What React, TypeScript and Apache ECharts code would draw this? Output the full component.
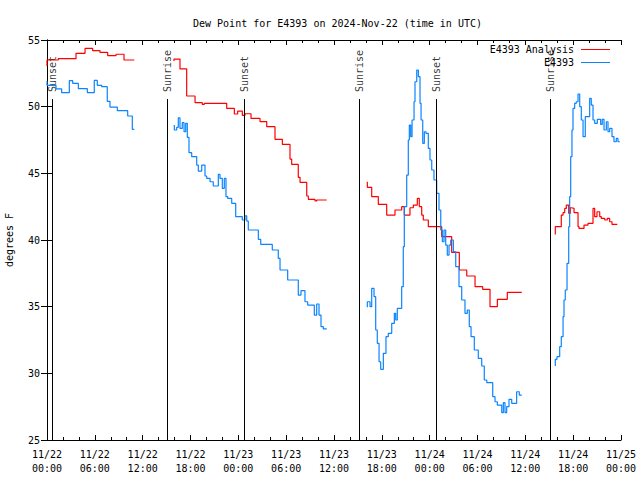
import React, { useEffect, useRef } from "react";
import * as echarts from "echarts";

const FONT = "'DejaVu Sans Mono', monospace";
const TITLE = "Dew Point for E4393 on 2024-Nov-22 (time in UTC)";
const START_DAY = 22;
const X_MAX_HOURS = 72;
const Y_MIN = 25;
const Y_MAX = 55;

// [hours since 11/22 00:00 UTC, degrees F] — value changes (step plots)
const analysis1 = [[0,53.05],[1.42,53.5],[3.64,53.6],[4.77,54.0],[5.73,54.37],[6.65,54.2],[7.61,54.07],[8.66,53.83],[9.66,53.93],[10.54,53.5],[10.95,53.5]];
const analysis2 = [[15.93,53.43],[16.68,53.57],[17.52,52.83],[18.57,50.8],[19.48,50.3],[19.73,50.17],[22.54,50.25],[23.5,49.87],[23.92,49.45],[24.5,49.67],[24.84,49.35],[25.59,49.47],[26.72,49.12],[27.56,48.88],[28.6,48.5],[29.52,47.55],[30.48,47.17],[30.69,46.07],[31.52,45.67],[31.74,44.7],[32.58,44.32],[32.78,43.3],[33.62,43.05],[33.83,42.93],[34.66,43.0],[35.09,43.0]];
const analysis3 = [[40.18,44.37],[40.73,43.95],[41.56,43.25],[42.61,42.67],[43.65,41.87],[44.49,42.25],[44.82,42.5],[45.53,41.87],[45.95,42.42],[46.45,42.62],[46.7,43.12],[47.0,42.5],[47.2,41.87],[47.83,41.5],[49.51,41.0],[50.76,40.25],[51.72,39.07],[52.65,37.75],[53.69,37.3],[54.65,36.5],[55.57,36.3],[56.49,35.0],[57.74,35.55],[58.71,36.07],[59.55,36.07]];
const analysis4 = [[63.76,40.42],[64.51,41.0],[64.73,41.87],[64.94,42.05],[65.14,42.37],[65.44,42.62],[65.64,42.0],[65.77,42.42],[66.11,42.37],[66.61,42.05],[66.73,41.0],[67.36,40.87],[67.86,41.12],[68.49,41.25],[68.7,42.37],[68.99,41.75],[69.33,42.12],[69.53,41.75],[69.96,41.62],[70.28,41.5],[70.58,41.62],[70.87,41.37],[71.21,41.17],[71.54,41.17]];

const observed1 = [[0,51.9],[1.13,51.6],[1.84,51.33],[2.8,51.05],[3.22,51.95],[3.93,51.75],[5.06,51.35],[5.93,51.05],[6.31,51.97],[6.86,51.6],[7.56,51.5],[7.9,50.4],[8.82,49.97],[10.12,49.7],[10.7,49.3],[10.95,48.3]];
const observed2 = [[15.97,48.63],[16.27,48.25],[16.47,48.45],[16.68,49.17],[16.97,48.37],[17.19,48.8],[17.4,48.12],[17.6,48.75],[17.81,47.7],[18.15,46.55],[18.78,46.25],[18.98,45.62],[19.41,45.17],[19.82,45.62],[20.03,44.8],[20.45,44.62],[20.86,44.37],[21.49,44.05],[21.7,44.92],[21.99,44.62],[22.24,43.87],[22.45,44.62],[22.67,43.25],[23.17,43.12],[23.67,42.75],[24.5,41.75],[24.84,41.5],[25.05,41.82],[25.25,41.42],[26.51,40.75],[26.81,40.05],[28.26,39.67],[29.01,39.25],[29.23,38.62],[30.19,37.75],[31.52,37.0],[31.86,35.87],[32.36,36.2],[32.7,35.37],[33.53,35.12],[33.83,34.37],[34.12,35.2],[34.37,34.37],[34.66,33.5],[35.09,33.33]];
const observed3 = [[40.18,34.95],[40.52,35.37],[40.73,35.0],[41.02,36.37],[41.23,35.75],[41.43,33.25],[41.65,32.25],[41.86,30.87],[42.19,30.3],[42.52,31.5],[42.81,32.75],[43.24,33.0],[43.57,33.75],[43.74,34.5],[43.94,34.0],[44.49,34.87],[44.69,36.5],[44.82,39.5],[45.12,42.5],[45.32,44.87],[45.45,47.5],[45.62,48.62],[45.79,47.75],[46.04,49.0],[46.16,50.37],[46.38,51.87],[46.58,52.75],[46.79,52.25],[46.92,50.25],[47.13,49.0],[47.33,47.25],[47.54,48.12],[47.83,48.0],[48.04,46.87],[48.26,46.0],[48.54,45.25],[48.88,44.5],[49.17,43.5],[49.39,42.25],[49.59,40.75],[49.8,39.87],[50.01,40.75],[50.21,39.62],[50.43,38.87],[50.64,39.62],[50.97,40.0],[51.27,39.12],[51.68,38.0],[52.02,36.5],[52.43,35.5],[52.72,34.5],[52.97,34.75],[53.19,33.5],[53.6,32.75],[54.1,31.75],[54.53,31.12],[54.85,30.55],[55.16,29.5],[55.91,29.3],[56.2,28.25],[56.49,27.87],[57.04,27.62],[57.24,27.05],[57.45,27.8],[57.66,27.05],[57.95,27.5],[58.29,28.05],[58.91,27.75],[59.24,28.62],[59.55,28.37]];
const observed4 = [[63.76,30.55],[63.97,31.05],[64.31,31.25],[64.51,32.0],[64.73,32.75],[64.85,34.25],[65.01,35.5],[65.23,36.25],[65.44,38.25],[65.56,41.0],[65.69,43.25],[65.85,46.25],[65.98,48.25],[66.19,49.87],[66.39,50.25],[66.61,50.37],[66.82,50.95],[67.02,50.0],[67.24,49.0],[67.52,47.75],[68.07,49.25],[68.27,50.62],[68.49,50.12],[68.7,49.0],[69.03,48.75],[69.45,49.05],[69.65,48.67],[69.87,49.05],[70.16,48.25],[70.37,48.87],[70.58,48.12],[70.87,48.37],[71.12,47.75],[71.41,47.37],[71.62,47.62],[71.86,47.37]];

const analysisSegments = [analysis1, analysis2, analysis3, analysis4];
const observedSegments = [observed1, observed2, observed3, observed4];

const sunHours = [0.71, 15.1, 24.78, 39.2, 48.84, 63.18];
const sunLabels = ["Sunset", "Sunrise", "Sunset", "Sunrise", "Sunset", "Sunrise"];
const SUN_LINE_TOP = 50.57;
const SUN_LABEL_BASE = 51.1;

const ANALYSIS_NAME = "E4393 Analysis";
const OBSERVED_NAME = "E4393";
const RED = "#ff0000";
const BLUE = "#0a84ff";

function xLabel(v: number): string {
  const day = START_DAY + Math.floor(v / 24);
  const hr = Math.round(v % 24);
  return `11/${day}\n${String(hr).padStart(2, "0")}:00`;
}

export default function App() {
  const ref = useRef<HTMLDivElement>(null);
  useEffect(() => {
    if (!ref.current) return;
    const chart = echarts.init(ref.current, null, { renderer: "svg" });
    const axisCommon = {
      type: "value" as const,
      axisLine: { show: true, lineStyle: { color: "#000", width: 1 } },
      splitLine: { show: false },
    };
    const lineSeries = (name: string, color: string, data: number[][], z: number) => ({
      type: "line",
      name,
      data,
      step: "start",
      showSymbol: false,
      symbol: "none",
      lineStyle: { color, width: 1.2 },
      itemStyle: { color },
      z,
    });
    const series: any[] = [];
    analysisSegments.forEach((seg) => series.push(lineSeries(ANALYSIS_NAME, RED, seg, 3)));
    observedSegments.forEach((seg) => series.push(lineSeries(OBSERVED_NAME, BLUE, seg, 4)));
    series.push({
      type: "scatter",
      name: "sun",
      symbolSize: 0,
      data: sunHours.map((h, i) => [h, SUN_LABEL_BASE, sunLabels[i]]),
      label: {
        show: true,
        position: [0, 0],
        rotate: 90,
        align: "left",
        verticalAlign: "middle",
        formatter: (p: any) => p.data[2],
        fontFamily: FONT,
        fontSize: 10,
        color: "#000",
      },
      markLine: {
        silent: true,
        symbol: ["none", "none"],
        label: { show: false },
        lineStyle: { color: "#000", width: 1, type: "solid" },
        data: sunHours.map((h) => [{ coord: [h, Y_MIN] }, { coord: [h, SUN_LINE_TOP] }]),
      },
      z: 2,
    });

    chart.setOption({
      animation: false,
      backgroundColor: "#fff",
      title: {
        text: TITLE,
        left: 188,
        top: 13,
        textStyle: { fontFamily: FONT, fontSize: 10, fontWeight: "normal", color: "#000" },
      },
      legend: {
        data: [
          { name: ANALYSIS_NAME, icon: "rect" },
          { name: OBSERVED_NAME, icon: "rect" },
        ],
        orient: "vertical",
        align: "right",
        right: 30,
        top: 43,
        itemWidth: 29,
        itemHeight: 1,
        itemGap: 0,
        padding: 0,
        selectedMode: false,
        textStyle: { fontFamily: FONT, fontSize: 10, color: "#000", lineHeight: 13, padding: [0, 2, 0, 0] },
      },
      grid: { left: 47, right: 19, top: 40, bottom: 40, containLabel: false, outerBoundsMode: "none" },
      xAxis: [
        {
          ...axisCommon,
          position: "bottom",
          min: 0,
          max: X_MAX_HOURS,
          interval: 6,
          axisTick: { show: true, inside: true, length: 5, lineStyle: { color: "#000" } },
          minorTick: { show: true, splitNumber: 3, length: 3, lineStyle: { color: "#000" } },
          axisLabel: {
            formatter: xLabel,
            fontFamily: FONT,
            fontSize: 10,
            color: "#000",
            lineHeight: 14,
            margin: 7,
            showMinLabel: true,
            showMaxLabel: true,
          },
        },
        {
          ...axisCommon,
          position: "top",
          min: 0,
          max: X_MAX_HOURS,
          interval: 6,
          axisTick: { show: true, inside: true, length: 5, lineStyle: { color: "#000" } },
          minorTick: { show: true, splitNumber: 3, length: 3, lineStyle: { color: "#000" } },
          axisLabel: { show: false },
        },
      ],
      yAxis: [
        {
          ...axisCommon,
          position: "left",
          min: Y_MIN,
          max: Y_MAX,
          interval: 5,
          name: "degrees F",
          nameLocation: "middle",
          nameGap: 33,
          nameRotate: 90,
          nameTextStyle: { fontFamily: FONT, fontSize: 10, color: "#000" },
          axisTick: { show: true, inside: true, length: 6, lineStyle: { color: "#000" } },
          axisLabel: { fontFamily: FONT, fontSize: 10, color: "#000", margin: 7 },
        },
        {
          ...axisCommon,
          position: "right",
          min: Y_MIN,
          max: Y_MAX,
          interval: 5,
          axisTick: { show: true, inside: true, length: 6, lineStyle: { color: "#000" } },
          axisLabel: { show: false },
        },
      ],
      series,
    });
    return () => chart.dispose();
  }, []);
  return (
    <div
      ref={ref}
      style={{ position: "fixed", left: 0, top: 0, width: 640, height: 480, background: "#fff" }}
    />
  );
}
